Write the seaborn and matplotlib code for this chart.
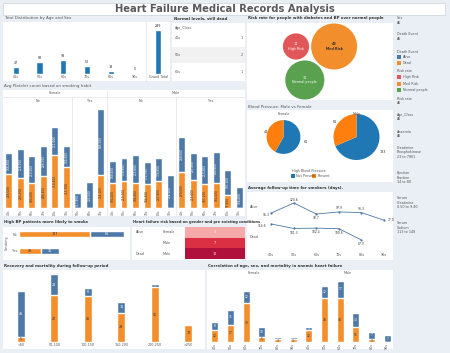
import numpy as np
import pandas as pd
import seaborn as sns
import matplotlib.pyplot as plt
from matplotlib.patches import Rectangle
from matplotlib.colors import LinearSegmentedColormap

W, H = 450, 353

# ---------------- data ----------------
age_classes = ["40s", "50s", "60s", "70s", "80s", "90s"]
age_totals = [47, 83, 93, 52, 19, 5]

normal_dead_ages = ["40s", "50s", "60s"]
normal_dead_counts = [1, 2, 1]

risk_groups = ["High Risk", "Med Risk", "Normal people"]
risk_counts = [14, 43, 31]

platelet_sex = ["Female"] * 9 + ["Male"] * 12
platelet_smoke = ["No"] * 6 + ["Yes"] * 3 + ["No"] * 6 + ["Yes"] * 6
platelet_age = ["40s", "50s", "60s", "70s", "80s", "90s", "50s", "60s", "70s",
                "40s", "50s", "60s", "70s", "80s", "90s",
                "40s", "50s", "60s", "70s", "80s", "90s"]
platelet_dead = [259500, 233300, 190200, 246400, 410400, 315700, 0, 0, 254100,
                 190200, 210200, 194800, 184800, 207900, 0,
                 279500, 215600, 187100, 192500, 97800, 0]
platelet_alive = [166300, 218700, 210200, 228700, 211000, 159400, 117800, 202500, 508200,
                  169400, 174800, 215600, 171700, 174800, 254100,
                  269500, 207900, 213300, 234900, 197100, 159400]

bp_sex = ["Female", "Male"]
bp_not_present = [61, 133]
bp_present = [44, 61]

fu_alive = [95.3, 120.6, 92.7, 97.9, 96.3, 77.0]
fu_dead_ages = ["40s", "50s", "60s", "70s", "80s"]
fu_dead = [114.6, 101.3, 102.4, 100.6, 67.3]

smoke_cats = ["No", "Yes"]
smoke_orange = [137, 42]
smoke_blue = [66, 35]

hf_event = ["Alive", "Alive", "Dead"]
hf_sex = ["Female", "Male", "Male"]
hf_values = [3, 7, 10]

fu_bins = ["<50", "50-100", "100-150", "150-200", "200-250", ">250"]
rec_orange = [5, 47, 46, 29, 55, 17]
rec_blue = [46, 21, 8, 11, 3, 0]

an_female_orange = [12, 17, 39, 5, 3, 3]
an_female_blue = [8, 15, 12, 10, 2, 2]
an_male_orange = [12, 44, 44, 15, 3, 0]
an_male_blue = [3, 12, 17, 14, 7, 7]

# ---------------- style ----------------
BLUE = "#4e79a7"
ORANGE = "#f28e2b"
BLUE2 = "#1f77b4"
ORANGE2 = "#ff7f0e"
RED = "#e15759"
GREEN = "#59a14f"
BG = "#e9eff5"
TXT = "#555555"
DARK = "#333333"
LINE = "#dcdcdc"
TINY = 2.4
SMALL = 2.9
BOLD_T = 2.8

sns.set_theme(style="white")
plt.rcParams["font.family"] = ["Liberation Sans Narrow", "DejaVu Sans"]

fig = plt.figure(figsize=(W / 100, H / 100), dpi=100)
fig.patch.set_facecolor(BG)


def rect_px(x0, y0, x1, y1):
    return [x0 / W, 1 - y1 / H, (x1 - x0) / W, (y1 - y0) / H]


def panel(x0, y0, x1, y1, color="white", edge="none"):
    fig.add_artist(Rectangle((x0 / W, 1 - y1 / H), (x1 - x0) / W, (y1 - y0) / H,
                             transform=fig.transFigure, facecolor=color,
                             edgecolor=edge, lw=0.5, zorder=-5))


def add_ax(x0, y0, x1, y1):
    ax = fig.add_axes(rect_px(x0, y0, x1, y1))
    ax.patch.set_alpha(0)
    return ax


def ftext(x, y, s, **kw):
    kw.setdefault("fontsize", TINY)
    kw.setdefault("color", TXT)
    kw.setdefault("va", "center")
    fig.text(x / W, 1 - y / H, s, **kw)


def clean(ax, rot=0):
    sns.despine(ax=ax, left=True, bottom=True)
    ax.set_xlabel("")
    ax.set_ylabel("")
    ax.set_yticks([])
    ax.tick_params(length=0, pad=1, labelsize=TINY, colors=TXT)
    for lab in ax.get_xticklabels():
        lab.set_rotation(rot)


def stacked(ax, keys, bottom, top, width, fmt, rot=0, fs=TINY):
    df = pd.DataFrame({"key": keys, "bottom": bottom, "top": top})
    df["total"] = df["bottom"] + df["top"]
    sns.barplot(data=df, x="key", y="total", color=BLUE, width=width,
                saturation=1, errorbar=None, ax=ax)
    sns.barplot(data=df, x="key", y="bottom", color=ORANGE, width=width,
                saturation=1, errorbar=None, ax=ax)
    for i, row in df.iterrows():
        if row["bottom"] > 0:
            ax.text(i, row["bottom"] / 2, fmt(row["bottom"]), ha="center", va="center",
                    rotation=rot, fontsize=fs, color=DARK)
        if row["top"] > 0:
            ax.text(i, row["bottom"] + row["top"] / 2, fmt(row["top"]), ha="center",
                    va="center", rotation=rot, fontsize=fs, color="white")


# ---------------- panels background ----------------
panel(3, 3, 445, 15, edge="#c9d1d9")
for box in [(3, 22, 170, 81), (172, 23, 245, 81), (247, 23, 393, 100),
            (3, 90, 245, 216), (247, 110, 393, 182), (247, 192, 393, 260),
            (3, 227, 130, 260), (132, 227, 245, 260), (3, 270, 205, 349),
            (207, 270, 393, 349)]:
    panel(*box)

ftext(225, 9, "Heart Failure Medical Records Analysis", fontsize=7.2, ha="center",
      color="#595959", weight="bold")

# titles
ftext(4, 18.5, "Total Distribution by Age and Sex", fontsize=SMALL)
ftext(174, 18.5, "Normal levels, still dead", fontsize=BOLD_T, weight="bold", color=DARK)
ftext(248, 18.5, "Risk rate for people with diabetes and BP over normal people",
      fontsize=BOLD_T, weight="bold", color=DARK)
ftext(4, 86, "Avg Platelet count based on smoking habit", fontsize=SMALL)
ftext(248, 106.5, "Blood Pressure: Male vs Female", fontsize=SMALL)
ftext(248, 188, "Average follow-up time for smokers (days).", fontsize=BOLD_T,
      weight="bold", color=DARK)
ftext(4, 222, "High BP patients more likely to smoke", fontsize=BOLD_T,
      weight="bold", color=DARK)
ftext(133, 222, "Heart failure risk based on gender and pre existing conditions",
      fontsize=2.6, weight="bold", color=DARK)
ftext(4, 265.5, "Recovery and mortality during follow-up period", fontsize=BOLD_T,
      weight="bold", color=DARK)
ftext(208, 265.5, "Correlation of age, sex, and mortality in anemic heart failure",
      fontsize=BOLD_T, weight="bold", color=DARK)

# ---------------- total distribution ----------------
dist_labels = age_classes + ["Grand Total"]
dist_values = age_totals + [sum(age_totals)]
ax1 = add_ax(4, 24, 170, 74)
sns.barplot(x=dist_labels, y=dist_values, color=BLUE2, width=0.26, saturation=1, ax=ax1)
ax1.set_ylim(0, 340)
ax1.set_xlim(-0.5, len(dist_labels) - 0.5)
for i, v in enumerate(dist_values):
    ax1.annotate(str(v), (i, v), xytext=(0, 1.5), textcoords="offset points",
                 ha="center", va="bottom", fontsize=TINY, color=DARK)
ax1.axvline(len(age_totals) - 0.5, ymin=-0.14, ymax=1.04, color=LINE, lw=0.4, clip_on=False)
clean(ax1)

# ---------------- normal levels table ----------------
ftext(175, 28, "Age_Class", fontsize=TINY)
row_h = (80 - 30) / len(normal_dead_ages)
for i, (a, c) in enumerate(zip(normal_dead_ages, normal_dead_counts)):
    top = 30 + i * row_h
    if i % 2 == 1:
        panel(172, top, 245, top + row_h, color="#f1f1f1")
    ftext(175, top + row_h / 2, a)
    ftext(243, top + row_h / 2, str(c), ha="right")

# ---------------- risk bubbles ----------------
k = 23 / np.sqrt(max(risk_counts))
radii = k * np.sqrt(np.array(risk_counts, dtype=float))
gap = 2.0
r_hi, r_med, r_no = radii
c_med = np.array([0.0, 0.0])
c_hi = np.array([-(r_med + r_hi + gap), 0.0])
d1, d2, D = r_med + r_no + gap, r_hi + r_no + gap, r_med + r_hi + gap
a = (d1 ** 2 - d2 ** 2 + D ** 2) / (2 * D)
h = np.sqrt(d1 ** 2 - a ** 2)
c_no = np.array([-a, h])
centers = np.array([c_hi, c_med, c_no])
lo = (centers - radii[:, None]).min(axis=0)
hi = (centers + radii[:, None]).max(axis=0)
centers = centers - (lo + hi) / 2 + np.array([(247 + 393) / 2, (23 + 100) / 2])

ax3 = add_ax(247, 23, 393, 100)
sns.scatterplot(x=centers[:, 0], y=centers[:, 1], hue=risk_groups,
                palette=dict(zip(risk_groups, [RED, ORANGE, GREEN])),
                s=(2 * radii * 0.72) ** 2, linewidth=0, legend=False, alpha=1, ax=ax3)
ax3.set_xlim(247, 393)
ax3.set_ylim(100, 23)
ax3.axis("off")
for (cx, cy), g, n in zip(centers, risk_groups, risk_counts):
    ax3.text(cx, cy, f"{n}\n{g}", ha="center", va="center", fontsize=TINY,
             color=DARK if g == "Med Risk" else "white",
             weight="bold" if g == "Med Risk" else "normal", linespacing=1.1)

# ---------------- legend column ----------------
leg_items = [
    (18.3, "Sex"), (22.7, "All"), (34.3, "Death Event"), (39, "All"),
    (51.7, "Death Event"), (71.3, "Risk rate"), (98.7, "Risk rate"), (103, "All"),
    (115, "Age_Class"), (119.3, "All"), (131.7, "Anaemia"), (136.3, "All"),
    (148, "Creatinine"), (152.3, "Phosphokinase"), (156.7, "23 to 7861"),
    (173.3, "Ejection"), (177.7, "Fraction"), (182, "14 to 80"),
    (198.3, "Serum"), (202.7, "Creatinine"), (206.7, "0.50 to 9.40"),
    (223.3, "Serum"), (227.7, "Sodium"), (232, "113 to 148"),
]
for y, s in leg_items:
    ftext(397, y, s)
for y, s, c in [(57, "Alive", BLUE), (63, "Dead", ORANGE), (77.3, "High Risk", RED),
                (83.7, "Med Risk", ORANGE), (90, "Normal people", GREEN)]:
    panel(397, y - 2, 401, y + 2, color=c)
    ftext(403, y, s)

# ---------------- avg platelet ----------------
pl_keys = [f"{s}-{m}-{a}-{i}" for i, (s, m, a) in
           enumerate(zip(platelet_sex, platelet_smoke, platelet_age))]
axp = add_ax(3, 90, 245, 208)
stacked(axp, pl_keys, platelet_dead, platelet_alive, 0.6,
        lambda v: f"{int(v):,}", rot=90, fs=2.1)
n_pl = len(pl_keys)
axp.set_xlim(-0.5, n_pl - 0.5)
axp.set_ylim(0, 118 * 7700)
clean(axp)
axp.set_xticks(range(n_pl), labels=platelet_age, rotation=90, fontsize=2.2)


def yfrac(py, top=90, bottom=208):
    return (bottom - py) / (bottom - top)


xt = axp.get_xaxis_transform()
groups = []
for i, key in enumerate(zip(platelet_sex, platelet_smoke)):
    if not groups or groups[-1][0] != key:
        groups.append([key, i, i])
    else:
        groups[-1][2] = i
sexes = []
for (s, m), i0, i1 in groups:
    axp.text((i0 + i1) / 2, yfrac(100.5), m, transform=xt, ha="center", va="center",
             fontsize=TINY, color=TXT)
    if not sexes or sexes[-1][0] != s:
        sexes.append([s, i0, i1])
    else:
        sexes[-1][2] = i1
    if i0 > 0:
        full = platelet_sex[i0] != platelet_sex[i0 - 1]
        axp.axvline(i0 - 0.5, ymin=yfrac(216), ymax=yfrac(90 if full else 97),
                    color=LINE, lw=0.4, clip_on=False)
for s, i0, i1 in sexes:
    axp.text((i0 + i1) / 2, yfrac(93.5), s, transform=xt, ha="center", va="center",
             fontsize=TINY, color=TXT)
axp.axhline(118 * 7700 * yfrac(97), color=LINE, lw=0.4)

# ---------------- blood pressure pies ----------------
axb = add_ax(247, 110, 393, 182)
kb = 23 / np.sqrt(max(n + p for n, p in zip(bp_not_present, bp_present)))
for j, (s, n, p) in enumerate(zip(bp_sex, bp_not_present, bp_present)):
    cx = 247 + (393 - 247) * (2 * j + 1) / (2 * len(bp_sex))
    cy = H - 137
    axb.pie([n, p], center=(cx, cy), radius=kb * np.sqrt(n + p), startangle=90,
            counterclock=False, colors=[BLUE2, ORANGE2], labels=[str(n), str(p)],
            labeldistance=1.22, textprops=dict(fontsize=TINY, color=DARK),
            wedgeprops=dict(linewidth=0), frame=True)
    axb.text(cx, H - 114, s, ha="center", va="center", fontsize=TINY, color=TXT)
axb.set_xlim(247, 393)
axb.set_ylim(H - 182, H - 110)
axb.set_aspect("auto")
axb.axis("off")
ftext(309, 171, "High Blood Pressure", ha="center")
for x, lab, c in [(293, "Not Present", BLUE2), (314, "Present", ORANGE2)]:
    panel(x - 2, 174, x + 2, 178, color=c)
    ftext(x + 3.5, 176, lab)

# ---------------- follow-up lines ----------------
ax_a = add_ax(260, 192, 393, 222)
ax_d = add_ax(260, 222, 393, 252)
sns.lineplot(x=age_classes, y=fu_alive, ax=ax_a, color=BLUE, marker="o",
             markersize=1.6, markeredgewidth=0, linewidth=0.6)
sns.lineplot(x=fu_dead_ages, y=fu_dead, ax=ax_d, color=BLUE, marker="o",
             markersize=1.6, markeredgewidth=0, linewidth=0.6)
alive_off = [(-3.5, -1.5), (0, 2.5), (0, -3), (0, 2.5), (0, 2.5), (5, 0)]
dead_off = [(-6.5, -1.5), (0, -3), (0, -3), (0, -3), (0, -3)]
for axl, vals, offs in [(ax_a, fu_alive, alive_off), (ax_d, fu_dead, dead_off)]:
    for i, (v, o) in enumerate(zip(vals, offs)):
        axl.annotate(f"{v:.1f}", (i, v), xytext=o, textcoords="offset points",
                     ha="center", va="center", fontsize=2.2, color=DARK)
    axl.set_xlim(-0.5, 5.4)
    clean(axl)
ax_a.set_ylim(72.5, 148.4)
ax_d.set_ylim(31.8, 120.5)
ax_a.set_xticks([])
ax_d.set_xticks(range(len(age_classes)), labels=age_classes, fontsize=TINY)
ftext(250, 207, "Alive")
ftext(250, 237, "Dead")

# ---------------- high BP smoking ----------------
sm = pd.DataFrame({"Smoking": smoke_cats, "orange": smoke_orange, "blue": smoke_blue})
sm["total"] = sm["orange"] + sm["blue"]
axs = add_ax(19.3, 226, 128, 259)
sns.barplot(data=sm, y="Smoking", x="total", orient="h", color=BLUE, width=0.36,
            saturation=1, errorbar=None, ax=axs)
sns.barplot(data=sm, y="Smoking", x="orange", orient="h", color=ORANGE, width=0.36,
            saturation=1, errorbar=None, ax=axs)
for i, row in sm.iterrows():
    axs.text(row["orange"] / 2, i, str(row["orange"]), ha="center", va="center",
             fontsize=TINY, color=DARK)
    axs.text(row["orange"] + row["blue"] / 2, i, str(row["blue"]), ha="center",
             va="center", fontsize=TINY, color="white")
axs.set_xlim(0, 210)
axs.set_ylim(len(smoke_cats) - 0.5, -0.5)
sns.despine(ax=axs, left=True, bottom=True)
axs.set_xlabel("")
axs.set_ylabel("")
axs.set_xticks([])
axs.tick_params(length=0, pad=1.5, labelsize=TINY, colors=TXT)
ftext(7, 243, "Smoking", rotation=90, ha="center")

# ---------------- heart failure risk heatmap ----------------
hf = pd.DataFrame({"value": hf_values}, index=[f"{e}-{s}" for e, s in zip(hf_event, hf_sex)])
axh = add_ax(185, 227, 245, 259)
cmap = LinearSegmentedColormap.from_list("reds", ["#fde3df", "#f4a3a3", "#e03444", "#b0103c"])
sns.heatmap(hf, ax=axh, cmap=cmap, vmin=0, vmax=max(hf_values), annot=True, fmt="d",
            cbar=False, annot_kws={"fontsize": TINY, "color": "white"})
axh.set_xticks([])
axh.set_yticks([])
axh.set_xlabel("")
axh.set_ylabel("")
row_h = (259 - 227) / len(hf_values)
prev = None
for i, (e, s) in enumerate(zip(hf_event, hf_sex)):
    y = 227 + row_h * (i + 0.5)
    if e != prev:
        ftext(136, y, e)
    ftext(163, y, s)
    prev = e

# ---------------- recovery ----------------
axr = add_ax(4, 272, 205, 342)
stacked(axr, fu_bins, rec_orange, rec_blue, 0.23, lambda v: str(int(v)))
axr.set_ylim(0, 70)
axr.set_xlim(-0.5, len(fu_bins) - 0.5)
clean(axr)

# ---------------- anemic correlation ----------------
ax_f = add_ax(207, 277, 301, 342)
ax_m = add_ax(301, 277, 395, 342)
for axc, o, b, lab in [(ax_f, an_female_orange, an_female_blue, "Female"),
                       (ax_m, an_male_orange, an_male_blue, "Male")]:
    stacked(axc, age_classes, o, b, 0.43, lambda v: str(int(v)), fs=2.1)
    axc.set_ylim(0, 65)
    axc.set_xlim(-0.5, len(age_classes) - 0.5)
    clean(axc, rot=90)
    axc.text(0.5, (342 - 273) / 65, lab, transform=axc.transAxes, ha="center",
             va="center", fontsize=TINY, color=TXT)
panel(300.8, 270, 301.2, 349, color=LINE)

fig.savefig("out.png", dpi=100, facecolor=BG)
